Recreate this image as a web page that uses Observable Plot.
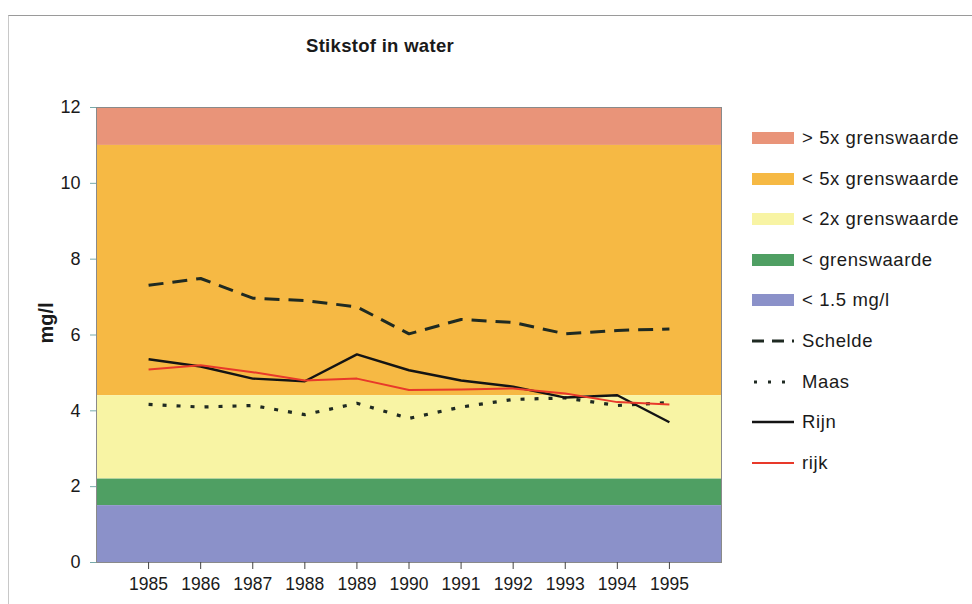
<!DOCTYPE html>
<html>
<head>
<meta charset="utf-8">
<script src="https://cdn.jsdelivr.net/npm/d3@7"></script>
<script src="https://cdn.jsdelivr.net/npm/@observablehq/plot@0.6"></script>
<style>
  body { margin: 0; background: #fff; font-family: Arial, "Liberation Sans", sans-serif; }
  #wrap { position: relative; width: 972px; height: 604px; overflow: hidden; }
  #border { position: absolute; left: 8px; top: 15px; width: 970px; height: 600px;
            border-top: 1px solid #9a9a9a; border-left: 1px solid #c8c8c8; }
  #title { position: absolute; left: 230px; width: 300px; top: 35px; text-align: center;
           font-size: 18.5px; font-weight: bold; color: #1a1a1a; letter-spacing: 0.3px; }
  #chart { position: absolute; left: 0; top: 0; }
  #legend { position: absolute; left: 752px; top: 125px; }
  .item { position: absolute; left: 0; height: 26px; display: flex; align-items: center;
          white-space: nowrap; font-size: 18.5px; letter-spacing: 0.6px; color: #1a1a1a; }
  .item svg { margin-right: 8px; }
</style>
</head>
<body>
<div id="wrap">
  <div id="border"></div>
  <div id="chart"></div>
  <div id="title">Stikstof in water</div>
  <div id="legend"></div>
</div>
<script>
// ---- data ----
const years = [1985, 1986, 1987, 1988, 1989, 1990, 1991, 1992, 1993, 1994, 1995];
const schelde = [7.31, 7.49, 6.97, 6.91, 6.74, 6.03, 6.41, 6.33, 6.03, 6.12, 6.16];
const maas    = [4.17, 4.10, 4.14, 3.90, 4.20, 3.80, 4.10, 4.30, 4.34, 4.14, 4.22];
const rijn    = [5.36, 5.17, 4.85, 4.78, 5.49, 5.07, 4.80, 4.64, 4.35, 4.41, 3.70];
const rijk    = [5.09, 5.20, 5.02, 4.80, 4.85, 4.55, 4.56, 4.59, 4.46, 4.23, 4.17];

const bandLabels = ["> 5x grenswaarde", "< 5x grenswaarde", "< 2x grenswaarde", "< grenswaarde", "< 1.5 mg/l"];
const bandLo = [11, 4.4, 2.2, 1.5, 0];
const bandHi = [12, 11, 4.4, 2.2, 1.5];
const bandColors = ["#e99479", "#f6b944", "#f8f4a4", "#4f9f63", "#8b91c9"];

const seriesNames = ["Schelde", "Maas", "Rijn", "rijk"];
const seriesValues = [schelde, maas, rijn, rijk];
const seriesColors = ["#1f2a22", "#1f2a22", "#141414", "#e8392a"];
const seriesDash = ["15,9", "4,10", null, null];
const seriesWidth = [3, 3.2, 2.4, 2];

const yTicks = [0, 2, 4, 6, 8, 10, 12];

// ---- build tables ----
const bands = bandLabels.map((label, i) => ({label, lo: bandLo[i], hi: bandHi[i], color: bandColors[i]}));
const rows = seriesNames.flatMap((name, s) => years.map((year, i) => ({name, year, value: seriesValues[s][i]})));

const lineMarks = seriesNames.map((name, s) =>
  Plot.line(rows.filter(d => d.name === name), {
    x: "year", y: "value",
    stroke: seriesColors[s],
    strokeWidth: seriesWidth[s],
    strokeDasharray: seriesDash[s] || undefined,
    strokeLinecap: "butt",
    strokeLinejoin: "round"
  })
);

const chart = Plot.plot({
  width: 972,
  height: 604,
  marginLeft: 96,
  marginRight: 251,
  marginTop: 107,
  marginBottom: 42,
  style: { fontFamily: "Arial, 'Liberation Sans', sans-serif", fontSize: "17.5px", color: "#1a1a1a", background: "transparent" },
  x: { domain: [1984, 1996] },
  y: { domain: [0, 12] },
  marks: [
    Plot.rect(bands, { y1: "lo", y2: "hi", fill: "color" }),
    ...lineMarks,
    Plot.frame({ stroke: "#8a8a8a", strokeWidth: 1 }),
    Plot.axisX({ ticks: years, tickFormat: d => String(d), tickSize: 7, tickPadding: 8, label: null, stroke: "#444", fontSize: 17.5 }),
    Plot.axisY({ ticks: yTicks, tickSize: 6, tickPadding: 10, label: "mg/l", labelAnchor: "center", labelArrow: "none", labelOffset: 58, stroke: "#7aa", fontSize: 18 })
  ]
});
document.getElementById("chart").appendChild(chart);
// y-axis label: bold, larger, slightly raised as in the reference
chart.querySelectorAll("g[aria-label='y-axis label']").forEach(g => {
  const prev = g.getAttribute("transform") || "";
  g.setAttribute("transform", "translate(0,-12) " + prev);
  g.querySelectorAll("text").forEach(t => { t.setAttribute("font-weight", "bold"); t.setAttribute("font-size", "20"); });
});

// ---- legend ----
const legend = document.getElementById("legend");
const itemStep = 40.6;
const allItems = [
  ...bands.map(b => ({label: b.label, kind: "swatch", color: b.color})),
  ...seriesNames.map((n, s) => ({label: n, kind: "line", color: seriesColors[s], dash: seriesDash[s], w: seriesWidth[s]}))
];
allItems.forEach((it, i) => {
  const div = document.createElement("div");
  div.className = "item";
  div.style.top = (i * itemStep) + "px";
  let sw;
  if (it.kind === "swatch") {
    sw = `<svg width="42" height="14"><rect x="0" y="1" width="42" height="12" fill="${it.color}"/></svg>`;
  } else {
    const dash = it.dash === "15,9" ? "12,8" : it.dash === "4,10" ? "3,11" : "";
    sw = `<svg width="42" height="14"><line x1="${it.dash === '4,10' ? 2 : 0}" x2="42" y1="7" y2="7" stroke="${it.color}" stroke-width="${it.w}" ${dash ? `stroke-dasharray="${dash}"` : ""}/></svg>`;
  }
  div.innerHTML = sw + `<span>${it.label}</span>`;
  legend.appendChild(div);
});
</script>
</body>
</html>
